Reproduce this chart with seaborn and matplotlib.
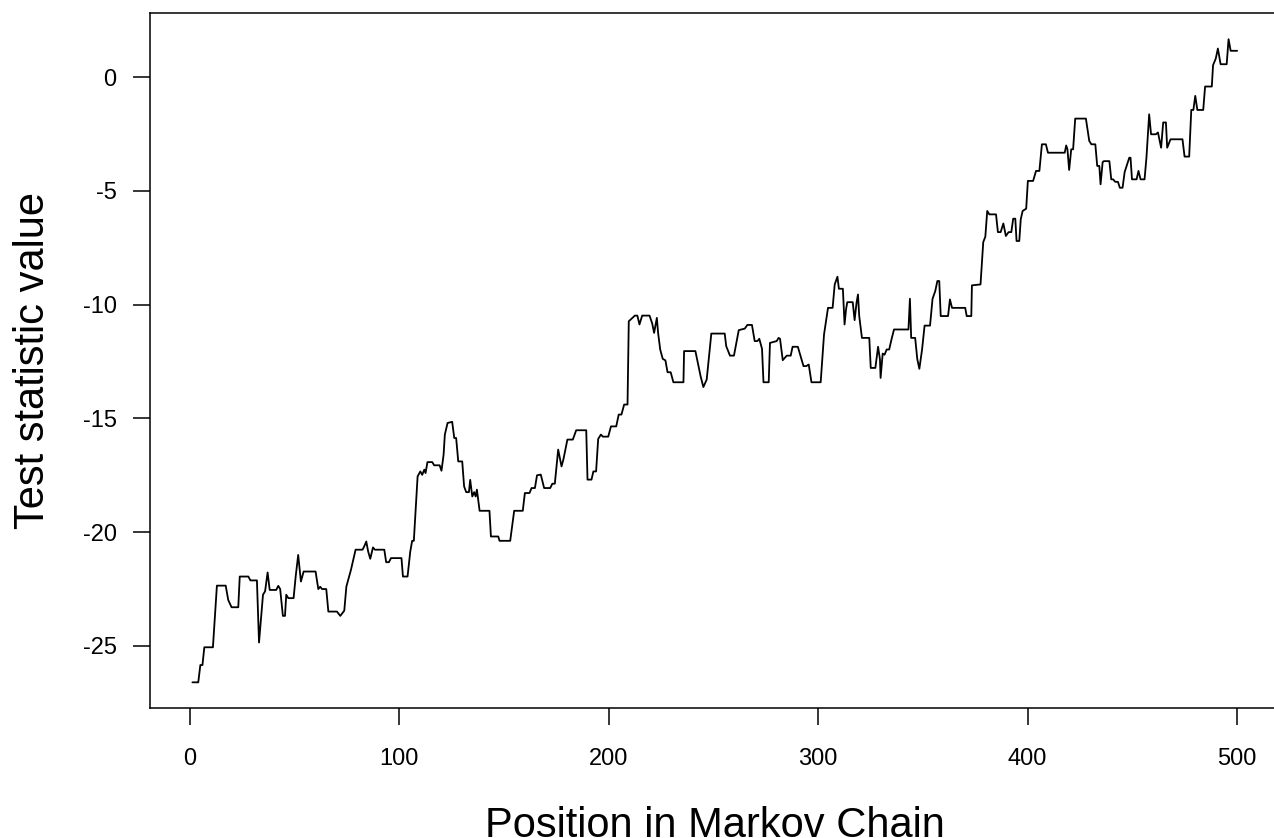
import matplotlib
matplotlib.use("Agg")
import matplotlib.pyplot as plt
import seaborn as sns
import pandas as pd

# trace of the test statistic along the chain (vertices)
position = [
    1.3, 4.1, 5.1, 6.1, 7.0, 11.1, 13.0, 17.2, 18.4, 20.0, 23.2, 23.9, 28.0, 29.0, 32.1,
    33.1, 35.0, 36.0, 37.2, 38.2, 41.3, 42.3, 43.2, 44.5, 45.5, 46.1, 47.1, 49.6, 50.6,
    51.8, 52.5, 53.1, 54.4, 60.1, 61.4, 62.3, 63.2, 65.2, 66.2, 70.3, 71.9, 73.8, 74.8,
    77.0, 79.2, 82.5, 83.3, 84.3, 85.2, 86.2, 87.5, 88.4, 92.9, 93.8, 95.1, 96.1, 101.1,
    101.8, 104.0, 105.3, 106.2, 107.0, 108.8, 110.1, 111.0, 112.0, 112.6, 113.5, 115.8,
    116.7, 119.3, 120.2, 121.2, 121.8, 123.1, 125.3, 126.3, 127.2, 128.2, 130.1, 131.0,
    132.0, 133.3, 133.9, 134.9, 135.8, 136.5, 137.1, 138.4, 143.1, 143.8, 147.3, 147.9,
    153.0, 154.9, 159.0, 160.0, 162.2, 163.2, 164.8, 165.8, 167.6, 169.2, 172.1, 173.1,
    174.3, 175.9, 177.5, 178.4, 180.3, 182.9, 184.5, 189.3, 189.9, 191.8, 192.7, 194.0,
    195.0, 196.3, 197.2, 199.8, 201.1, 203.6, 204.8, 206.1, 207.4, 209.0, 209.6, 210.9,
    212.5, 213.7, 214.7, 216.0, 219.5, 220.8, 221.7, 223.0, 223.6, 224.6, 225.8, 227.1,
    228.1, 229.6, 230.9, 235.7, 236.0, 241.4, 243.9, 245.2, 246.8, 249.0, 255.4, 256.1,
    257.9, 259.8, 262.1, 265.0, 266.2, 268.4, 269.7, 271.0, 271.9, 273.2, 273.9, 276.4,
    277.0, 280.2, 281.1, 281.8, 283.1, 285.0, 286.9, 287.8, 290.3, 291.6, 292.6, 293.0,
    294.3, 295.5, 296.8, 301.2, 302.8, 304.7, 306.9, 307.9, 309.2, 309.9, 311.8, 312.6,
    313.3, 313.9, 316.5, 317.4, 318.3, 319.0, 319.6, 320.9, 324.4, 325.1, 327.3, 328.6,
    329.5, 329.8, 330.8, 331.7, 332.7, 333.9, 335.0, 336.2, 343.1, 343.8, 344.4, 346.3,
    347.3, 348.3, 349.6, 350.8, 353.4, 354.6, 355.9, 356.9, 357.8, 358.5, 362.0, 362.9,
    363.9, 370.2, 370.9, 373.1, 373.4, 377.5, 378.8, 379.8, 380.7, 381.7, 384.9, 385.8,
    387.1, 388.4, 389.6, 390.9, 392.2, 393.1, 394.1, 394.7, 396.0, 396.7, 397.6, 399.3,
    400.1, 402.6, 404.0, 405.6, 406.8, 408.7, 409.7, 417.7, 418.4, 419.0, 419.8, 420.8,
    421.7, 422.7, 427.8, 429.4, 430.4, 432.3, 433.2, 434.2, 434.8, 435.8, 436.4, 439.0,
    439.9, 440.8, 441.8, 443.1, 444.0, 445.3, 446.3, 448.5, 449.1, 449.8, 452.0, 452.9,
    453.9, 455.8, 456.7, 458.0, 458.9, 461.2, 462.2, 463.7, 464.7, 466.0, 466.6, 468.2,
    473.9, 474.9, 477.1, 478.1, 479.1, 480.0, 481.0, 483.8, 484.7, 487.9, 488.5, 489.8,
    490.8, 492.1, 495.0, 495.9, 496.9, 500.0,
]
test_stat = [
    -26.6, -26.6, -25.84, -25.84, -25.06, -25.06, -22.35, -22.35, -22.98, -23.3, -23.3,
    -21.95, -21.95, -22.12, -22.12, -24.85, -22.75, -22.6, -21.77, -22.54, -22.54, -22.36,
    -22.5, -23.68, -23.68, -22.75, -22.9, -22.9, -21.95, -21.0, -21.65, -22.17, -21.73,
    -21.73, -22.5, -22.4, -22.5, -22.5, -23.49, -23.49, -23.68, -23.45, -22.39, -21.65,
    -20.77, -20.77, -20.63, -20.41, -20.85, -21.17, -20.67, -20.77, -20.77, -21.32, -21.32,
    -21.14, -21.14, -21.95, -21.95, -20.85, -20.38, -20.38, -17.55, -17.33, -17.48, -17.25,
    -17.4, -16.92, -16.92, -17.06, -17.06, -17.3, -16.6, -15.71, -15.2, -15.15, -15.86,
    -15.86, -16.89, -16.89, -17.99, -18.24, -18.24, -17.7, -18.43, -18.24, -18.43, -18.13,
    -19.06, -19.06, -20.19, -20.19, -20.38, -20.38, -19.06, -19.06, -18.28, -18.28, -18.06,
    -18.06, -17.5, -17.47, -18.06, -18.06, -17.87, -17.87, -16.37, -17.11, -16.8, -15.93,
    -15.93, -15.52, -15.52, -17.69, -17.69, -17.33, -17.33, -15.9, -15.71, -15.8, -15.8,
    -15.35, -15.35, -14.83, -14.83, -14.39, -14.39, -10.73, -10.62, -10.48, -10.48, -10.87,
    -10.48, -10.48, -10.83, -11.24, -10.58, -11.24, -11.97, -12.38, -12.45, -12.97, -12.97,
    -13.41, -13.41, -12.04, -12.04, -13.15, -13.62, -13.29, -11.27, -11.27, -11.82, -12.24,
    -12.24, -11.12, -11.05, -10.89, -10.89, -11.6, -11.6, -11.5, -11.94, -13.41, -13.41,
    -11.68, -11.6, -11.46, -11.5, -12.44, -12.24, -12.24, -11.85, -11.85, -12.26, -12.59,
    -12.7, -12.7, -12.63, -13.41, -13.41, -11.31, -10.14, -10.14, -9.11, -8.77, -9.3, -9.3,
    -10.87, -10.21, -9.89, -9.89, -10.68, -9.93, -9.55, -10.5, -11.46, -11.46, -12.78,
    -12.78, -11.85, -12.41, -13.22, -12.15, -12.2, -11.97, -11.97, -11.53, -11.09, -11.09,
    -9.74, -11.46, -11.46, -12.38, -12.82, -11.97, -10.92, -10.92, -9.74, -9.4, -8.96,
    -8.96, -10.5, -10.5, -9.77, -10.14, -10.14, -10.5, -10.5, -9.15, -9.11, -7.25, -7.01,
    -5.88, -6.03, -6.03, -6.81, -6.81, -6.43, -6.98, -6.81, -6.81, -6.22, -6.22, -7.2, -7.2,
    -6.25, -5.88, -5.78, -4.56, -4.56, -4.12, -4.12, -2.95, -2.95, -3.32, -3.32, -3.0,
    -3.17, -4.08, -3.17, -3.17, -1.82, -1.82, -2.8, -2.95, -2.95, -3.9, -3.9, -4.71, -3.73,
    -3.69, -3.69, -4.49, -4.49, -4.6, -4.6, -4.86, -4.86, -4.17, -3.54, -3.54, -4.49, -4.49,
    -4.12, -4.49, -4.49, -3.54, -1.63, -2.51, -2.51, -2.43, -3.1, -1.99, -1.99, -3.1, -2.73,
    -2.73, -3.49, -3.49, -1.44, -1.44, -0.82, -1.44, -1.44, -0.41, -0.41, 0.53, 0.82, 1.26,
    0.57, 0.57, 1.67, 1.16, 1.16,
]
x_ticks = [0, 100, 200, 300, 400, 500]
y_ticks = [-25, -20, -15, -10, -5, 0]

df = pd.DataFrame({"position": position, "stat": test_stat})

sns.set_style("ticks")
plt.rcParams["font.family"] = ["Liberation Sans", "DejaVu Sans"]
plt.rcParams["text.color"] = "black"
plt.rcParams["axes.labelcolor"] = "black"
plt.rcParams["xtick.color"] = "black"
plt.rcParams["ytick.color"] = "black"

fig = plt.figure(figsize=(12.74, 8.38), dpi=100)
# R-like plot region, right edge runs off the figure as in the original
ax = fig.add_axes([0.1177, 0.1551, 0.8862, 0.8288])

sns.lineplot(data=df, x="position", y="stat", ax=ax, color="black",
             linewidth=1.3, sort=False, estimator=None)

ax.set_xlim(-18.96, 519.96)
ax.set_ylim(-27.73, 2.8)
ax.set_xticks(x_ticks)
ax.set_yticks(y_ticks)
ax.set_xticklabels([str(v) for v in x_ticks])
ax.set_yticklabels([str(v) for v in y_ticks])
ax.tick_params(axis="both", labelsize=17, length=12, width=1.1,
               color="black", labelcolor="black")
ax.tick_params(axis="x", pad=17)
ax.tick_params(axis="y", pad=12)

for side in ["left", "right", "top", "bottom"]:
    ax.spines[side].set_visible(True)
    ax.spines[side].set_linewidth(1.1)
    ax.spines[side].set_color("black")

ax.set_xlabel("Position in Markov Chain", fontsize=30, color="black")
ax.set_ylabel("Test statistic value", fontsize=30, color="black")
ax.xaxis.set_label_coords(0.5, -0.141)
ax.yaxis.set_label_coords(-0.104, 0.5)
ax.yaxis.label.set_va("center")

fig.savefig("out.png", dpi=100)
